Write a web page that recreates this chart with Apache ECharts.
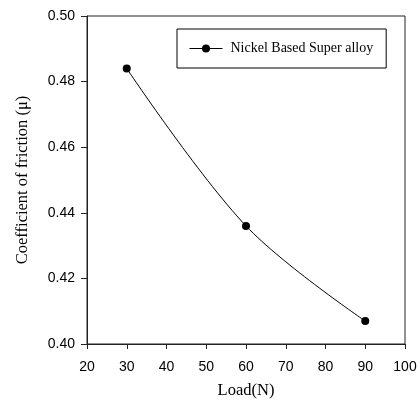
<!DOCTYPE html>
<html><head><meta charset="utf-8">
<script src="https://cdn.jsdelivr.net/npm/echarts@6/dist/echarts.min.js"></script>
<style>html,body{margin:0;padding:0;background:#fff}#c{width:420px;height:408px}</style>
</head><body><div id="c"></div>
<script>
var loads = [30, 60, 90];
var cof = [0.484, 0.436, 0.407];
var seriesName = 'Nickel Based Super alloy';
var xTicks = [20, 30, 40, 50, 60, 70, 80, 90, 100];
var yTicks = [0.40, 0.42, 0.44, 0.46, 0.48, 0.50];

var chart = echarts.init(document.getElementById('c'), null, {renderer: 'canvas'});
var axisColor = '#222';
chart.setOption({
  animation: false,
  backgroundColor: '#fff',
  grid: {left: 87, top: 16, width: 318, height: 328, show: true, borderColor: axisColor, borderWidth: 1, backgroundColor: 'transparent'},
  legend: {
    data: [seriesName], left: 177, top: 29,
    padding: [11, 13, 11, 12], itemWidth: 33, itemHeight: 10,
    borderColor: '#000', borderWidth: 1, borderRadius: 0,
    lineStyle: {width: 1},
    textStyle: {fontFamily: 'Liberation Serif', fontSize: 14, color: '#000', lineHeight: 17, padding: [0, 0, 0, 3]}
  },
  xAxis: {
    type: 'value', min: xTicks[0], max: xTicks[xTicks.length - 1], interval: 10,
    name: 'Load(N)', nameLocation: 'middle', nameGap: 38,
    nameTextStyle: {fontFamily: 'Liberation Serif', fontSize: 16.5, color: '#000'},
    axisLine: {show: true, lineStyle: {color: axisColor, width: 1}},
    axisTick: {show: true, inside: false, length: 5, lineStyle: {color: axisColor}},
    axisLabel: {margin: 16, fontFamily: 'Liberation Sans', fontSize: 14, color: '#000'},
    splitLine: {show: false}
  },
  yAxis: {
    type: 'value', min: 0.40, max: 0.50, interval: 0.02,
    name: 'Coefficient of friction (\u03bc)', nameLocation: 'middle', nameGap: 56,
    nameTextStyle: {fontFamily: 'Liberation Serif', fontSize: 16.5, color: '#000', padding: [0, 0, 0, 0]},
    axisLine: {show: true, lineStyle: {color: axisColor, width: 1}},
    axisTick: {show: true, inside: false, length: 6, lineStyle: {color: axisColor}},
    axisLabel: {margin: 12, fontFamily: 'Liberation Sans', fontSize: 14, color: '#000',
      formatter: function (v) { return v.toFixed(2); }},
    splitLine: {show: false}
  },
  series: [{
    name: seriesName, type: 'line', smooth: 0.35,
    data: loads.map(function (x, i) { return [x, cof[i]]; }),
    symbol: 'circle', symbolSize: 8,
    itemStyle: {color: '#000'},
    lineStyle: {color: '#000', width: 1}
  }]
});
</script></body></html>
